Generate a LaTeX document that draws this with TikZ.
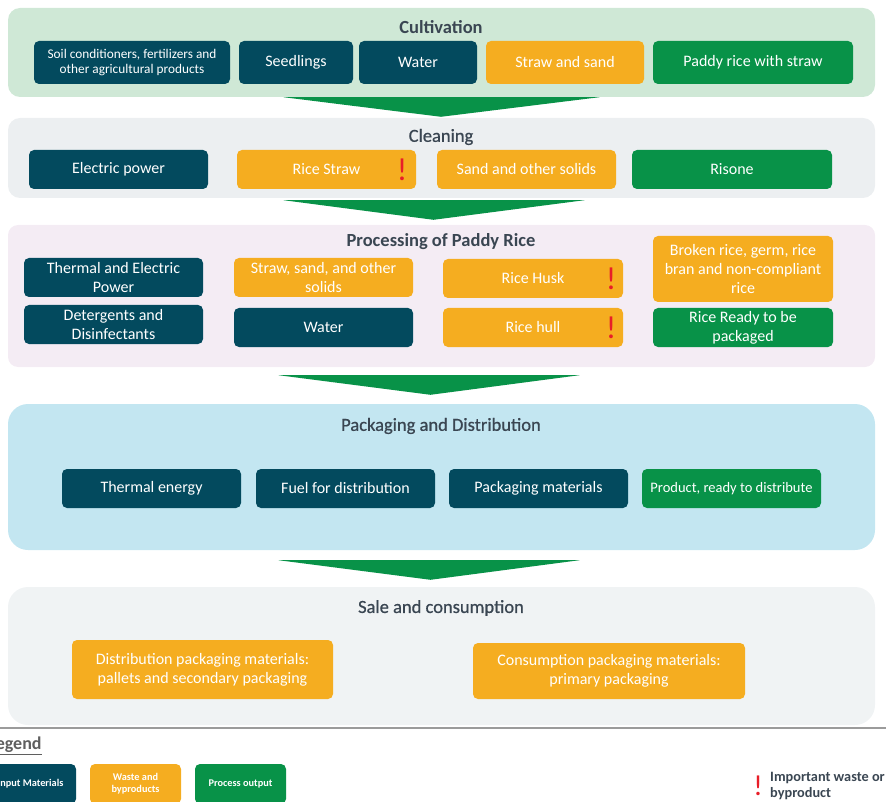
\documentclass[tikz,border=0pt]{standalone}
\usepackage{fontspec}
\setmainfont{Carlito}
\newfontfamily\mediumfont[FakeBold=0.7]{Carlito}
\usetikzlibrary{positioning, calc}
\definecolor{riceteal}{RGB}{3, 74, 94}
\definecolor{riceamber}{RGB}{245, 173, 32}
\definecolor{ricegreen}{RGB}{8, 146, 72}
\definecolor{alarmred}{RGB}{232, 30, 40}
\definecolor{slateText}{RGB}{58, 70, 82}
\definecolor{cultFill}{RGB}{207, 232, 214}
\definecolor{cleanFill}{RGB}{236, 239, 241}
\definecolor{procFill}{RGB}{244, 236, 244}
\definecolor{packFill}{RGB}{195, 230, 241}
\definecolor{saleFill}{RGB}{240, 243, 244}
\definecolor{ruleGray}{RGB}{155, 155, 155}
\definecolor{legendGray}{RGB}{95, 95, 95}
\tikzset{
  stage/.style={
    rounded corners=12pt,
    inner sep=0pt
  },
  stage title/.style={
    text=slateText,
    inner sep=0pt,
    font=\fontsize{18.5}{20}\selectfont\bfseries
  },
  stage subtitle/.style={
    text=slateText,
    inner sep=0pt,
    font=\fontsize{18.5}{20}\selectfont\mediumfont
  },
  card/.style={
    rounded corners=5pt,
    inner sep=0pt,
    align=center,
    text=white,
    minimum width=179pt,
    minimum height=39pt,
    font=\fontsize{16}{19}\selectfont
  },
  inbox/.style={card, fill=riceteal},
  wastebox/.style={card, fill=riceamber},
  outbox/.style={card, fill=ricegreen},
  legendbox/.style={
    rounded corners=5pt,
    inner sep=0pt,
    align=center,
    text=white,
    minimum width=91pt,
    minimum height=40pt,
    font=\fontsize{10.3}{12}\selectfont\bfseries
  },
  flow/.style={fill=ricegreen},
  alert/.style={
    text=alarmred,
    inner sep=0pt,
    font=\fontsize{32}{32}\selectfont
  }
}

\begin{document}
\begin{tikzpicture}[x=1pt, y=-1pt]
      \useasboundingbox (0,0) rectangle (886,802);
      \clip (0,0) rectangle (886,802);

      % Cultivation
      \node[stage, fill=cultFill, minimum width=867pt, minimum height=89pt] (cult) at (441.5,52.5) {};
      \node[stage title] (culttitle) at (441,27) {Cultivation};
      \node[inbox, minimum width=196pt, minimum height=43pt, font=\fontsize{13.3}{15.5}\selectfont] (soil) at (132,62.5) {Soil conditioners, fertilizers and\\other agricultural products};
      \node[inbox, minimum width=114pt, minimum height=43pt] (seed) at (296,62.5) {Seedlings};
      \node[inbox, minimum width=118pt, minimum height=43pt] (water) at (418,62.5) {Water};
      \node[wastebox, minimum width=158pt, minimum height=43pt] (strawsand) at (565,62.5) {Straw and sand};
      \node[outbox, minimum width=200pt, minimum height=43pt] (paddy) at (753,62.5) {Paddy rice with straw};

      % Cleaning
      \node[stage, fill=cleanFill, minimum width=867pt, minimum height=80pt] (clean) at (441.5,158) {};
      \node[stage subtitle] (cleantitle) at (441,137) {Cleaning};
      \node[inbox] (epower) at (118.5,169.5) {Electric power};
      \node[wastebox] (ricestraw) at (326.5,169.5) {Rice Straw};
      \node[wastebox] (sandsol) at (526.5,169.5) {Sand and other solids};
      \node[outbox, minimum width=200pt] (risone) at (732,169.5) {Risone};
      \node[alert] (strawalert) at ([xshift=-14pt]ricestraw.east) {!};

      % Processing of Paddy Rice
      \node[stage, fill=procFill, rounded corners=10pt, minimum width=867pt, minimum height=142pt] (proc) at (441.5,296) {};
      \node[stage title] (proctitle) at (441,242) {Processing of Paddy Rice};
      \node[inbox] (thermal) at (113.5,277.5) {Thermal and Electric\\Power};
      \node[inbox] (deterg) at (113.5,324.5) {Detergents and\\Disinfectants};
      \node[wastebox] (strawsol) at (323.5,277.5) {Straw, sand, and other\\solids};
      \node[inbox] (water2) at (323.5,327.5) {Water};
      \node[wastebox, minimum width=180pt] (husk) at (533,278.5) {Rice Husk};
      \node[wastebox, minimum width=180pt] (hull) at (533,327.5) {Rice hull};
      \node[wastebox, minimum width=180pt, minimum height=66pt] (broken) at (743,269) {Broken rice, germ, rice\\bran and non-compliant\\rice};
      \node[outbox, minimum width=180pt] (ready) at (743,327.5) {Rice Ready to be\\packaged};
      \node[alert] (huskalert) at ([xshift=-12pt]husk.east) {!};
      \node[alert] (hullalert) at ([xshift=-12pt]hull.east) {!};

      % Packaging and Distribution
      \node[stage, fill=packFill, rounded corners=20pt, minimum width=867pt, minimum height=146pt] (pack) at (441.5,477) {};
      \node[stage subtitle] (packtitle) at (441,426) {Packaging and Distribution};
      \node[inbox] (theng) at (151.5,488.5) {Thermal energy};
      \node[inbox] (fuel) at (345.5,488.5) {Fuel for distribution};
      \node[inbox] (packmat) at (538.5,488.5) {Packaging materials};
      \node[outbox, font=\fontsize{14.5}{16}\selectfont] (product) at (731.5,488.5) {Product, ready to distribute};

      % Sale and consumption
      \node[stage, fill=saleFill, rounded corners=20pt, minimum width=867pt, minimum height=138pt] (sale) at (441.5,656) {};
      \node[stage subtitle] (saletitle) at (441,608) {Sale and consumption};
      \node[wastebox, minimum width=261pt, minimum height=59pt] (distpack) at (202.5,669.5) {Distribution packaging materials:\\pallets and secondary packaging};
      \node[wastebox, minimum width=272pt, minimum height=56pt] (conspack) at (609,671) {Consumption packaging materials:\\primary packaging};

      % flow between stages
      \fill[flow] ([xshift=-158pt]cult.south) -- ([xshift=158pt]cult.south) -- ([xshift=-0.5pt, yshift=1pt]clean.north) -- cycle;
      \fill[flow] ([xshift=-158pt, yshift=-2pt]clean.south) -- ([xshift=143pt, yshift=-2pt]clean.south) -- ([xshift=-8pt, yshift=5pt]proc.north) -- cycle;
      \fill[flow] ([xshift=-163pt, yshift=-8pt]proc.south) -- ([xshift=138pt, yshift=-8pt]proc.south) -- ([xshift=-11pt, yshift=9pt]pack.north) -- cycle;
      \fill[flow] ([xshift=-163pt, yshift=-10pt]pack.south) -- ([xshift=138pt, yshift=-10pt]pack.south) -- ([xshift=-11pt, yshift=7pt]sale.north) -- cycle;

      % Legend
      \draw[ruleGray, line width=2pt] (0,728) -- (886,728);
      \node[anchor=west, inner sep=0pt, text=legendGray, font=\fontsize{18}{20}\selectfont\bfseries] (legend) at (-12,746) {\underline{Legend}};
      \node[legendbox, fill=riceteal] (inleg) at (30.5,784) {Input Materials};
      \node[legendbox, fill=riceamber] (wasteleg) at (135.5,784) {Waste and\\byproducts};
      \node[legendbox, fill=ricegreen] (outleg) at (240.5,784) {Process output};
      \node[anchor=west, inner sep=0pt, align=left, text=slateText, font=\fontsize{14.3}{15.5}\selectfont\bfseries] (imptxt) at (770,786) {Important waste or\\byproduct};
      \node[alert, font=\fontsize{29}{29}\selectfont, left=7pt of imptxt.west, anchor=east] (legalert) {!};
\end{tikzpicture}
\end{document}
